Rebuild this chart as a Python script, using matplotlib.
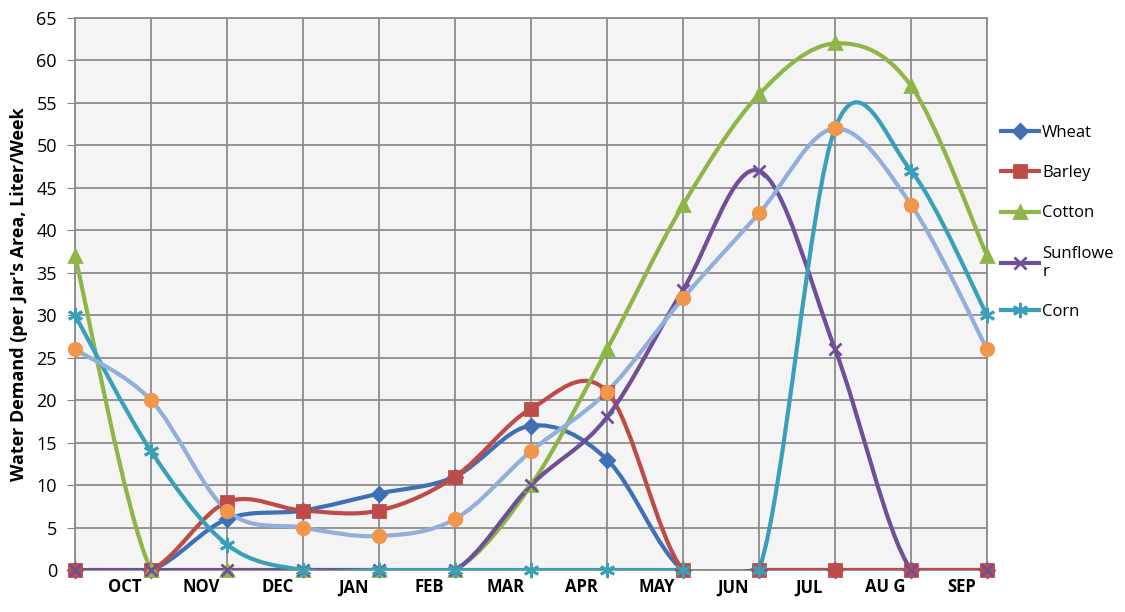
import numpy as np
import matplotlib
matplotlib.use('Agg')
import matplotlib.pyplot as plt
from matplotlib.path import Path
from matplotlib.patches import PathPatch
from matplotlib.lines import Line2D

plt.rcParams['font.family'] = ['Open Sans', 'DejaVu Sans']

# data
months = ['OCT', 'NOV', 'DEC', 'JAN', 'FEB', 'MAR', 'APR', 'MAY', 'JUN', 'JUL', 'AU G', 'SEP']
wheat = [0, 0, 6, 7, 9, 11, 17, 13, 0, 0, 0, 0, 0]
barley = [0, 0, 8, 7, 7, 11, 19, 21, 0, 0, 0, 0, 0]
cotton = [37, 0, 0, 0, 0, 0, 10, 26, 43, 56, 62, 57, 37]
sunflower = [0, 0, 0, 0, 0, 0, 10, 18, 33, 47, 26, 0, 0]
corn = [30, 14, 3, 0, 0, 0, 0, 0, 0, 0, 52, 47, 30]
other = [26, 20, 7, 5, 4, 6, 14, 21, 32, 42, 52, 43, 26]

series = [
    ('Wheat', wheat, '#3F6FB5', 'D', 7),
    ('Barley', barley, '#BE4B48', 's', 9),
    ('Cotton', cotton, '#8FB549', '^', 9),
    ('Sunflowe\nr', sunflower, '#6F4F96', 'x', 9),
    ('Corn', corn, '#3AA0BA', (6, 2, 0), 11),
]


def smooth_path(xs, ys):
    # Excel-like smoothed line as cubic Bezier segments
    pts = np.column_stack([xs, ys]).astype(float)
    n = len(pts)
    verts = [pts[0]]
    codes = [Path.MOVETO]
    for i in range(n - 1):
        p0 = pts[i - 1] if i > 0 else pts[i]
        p1 = pts[i]
        p2 = pts[i + 1]
        p3 = pts[i + 2] if i + 2 < n else pts[i + 1]
        c1 = p1 + (p2 - p0) / 6
        c2 = p2 - (p3 - p1) / 6
        verts += [c1, c2, p2]
        codes += [Path.CURVE4] * 3
    return Path(verts, codes)


fig = plt.figure(figsize=(11.25, 6.12), dpi=100)
ax = fig.add_axes([0.0667, 0.0686, 0.8107, 0.902])
ax.set_facecolor('#F4F4F4')

x = np.arange(len(wheat))
handles = []
for name, vals, col, mk, ms in series:
    ax.add_patch(PathPatch(smooth_path(x, vals), facecolor='none', edgecolor=col, lw=3, zorder=3))
    ax.plot(x, vals, ls='none', marker=mk, color=col, ms=ms, mew=2, zorder=4, clip_on=False)
    handles.append(Line2D([], [], color=col, lw=3, marker=mk, ms=ms, mew=2))

ax.add_patch(PathPatch(smooth_path(x, other), facecolor='none', edgecolor='#92AEDA', lw=3, zorder=3))
ax.plot(x, other, ls='none', marker='o', color='#F0974B', ms=10, zorder=4, clip_on=False)

ax.set_xlim(0, 12)
ax.set_ylim(0, 65)
ax.set_yticks(np.arange(0, 66, 5))
ax.set_xticks(np.arange(13))
ax.set_xticks(np.arange(12) + 0.66, minor=True)
ax.set_xticklabels([])
ax.set_xticklabels(months, minor=True, fontweight='bold', fontsize=12)
ax.tick_params(axis='x', which='minor', length=0, pad=6)
ax.tick_params(axis='x', which='major', length=0)
ax.tick_params(axis='y', labelsize=13, length=6, pad=7, color='#888888')
ax.grid(True, which='major', color='#8C8C8C', lw=1.3)
ax.set_axisbelow(True)
for s in ax.spines.values():
    s.set_color('#8C8C8C')
    s.set_linewidth(1.3)

ax.set_ylabel("Water Demand (per Jar's Area, Liter/Week", fontweight='bold', fontsize=13, labelpad=6)

fig.legend(handles, [s[0] for s in series], loc='upper left', bbox_to_anchor=(0.876, 0.82),
           frameon=False, fontsize=12, labelspacing=1.45, handlelength=2.3, handletextpad=0.2)

fig.savefig('out.png', dpi=100)
